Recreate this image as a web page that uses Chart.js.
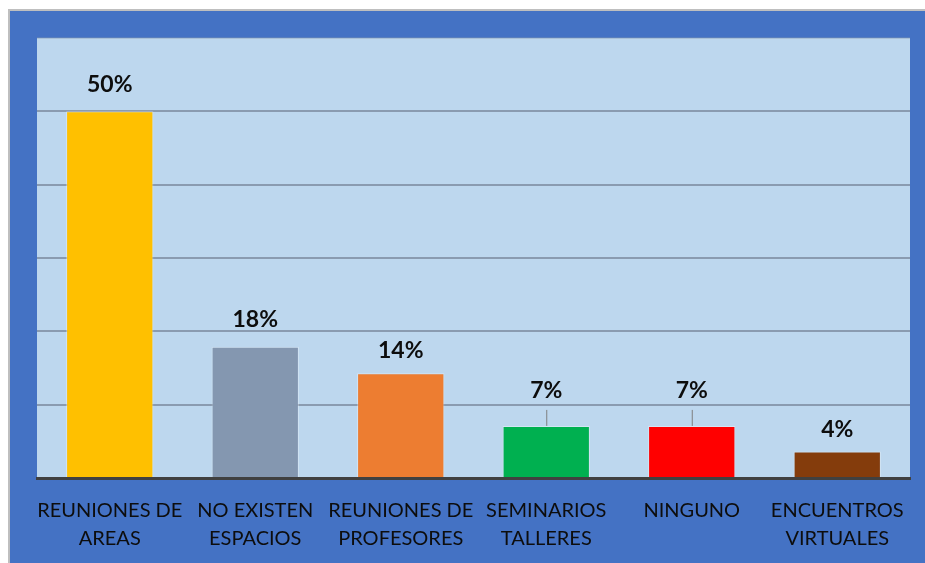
<!DOCTYPE html>
<html lang="es">
<head>
    <meta charset="UTF-8">
    <title>Espacios</title>
    <script src="https://cdn.jsdelivr.net/npm/chart.js"></script>
    <style>
        body { margin: 0; background: #fff; }
        canvas { position: absolute; left: 0; top: 0; }
    </style>
</head>
<body>
    <canvas id="chart" width="925" height="563"></canvas>

    <script>
        // data (28 answers -> 14, 5, 4, 2, 2, 1)
        const categories = [
            ['REUNIONES DE', 'AREAS'],
            ['NO EXISTEN', 'ESPACIOS'],
            ['REUNIONES DE', 'PROFESORES'],
            ['SEMINARIOS', 'TALLERES'],
            ['NINGUNO'],
            ['ENCUENTROS', 'VIRTUALES']
        ];
        const percents = [50, 17.9, 14.3, 7.1, 7.1, 3.6];
        const valueLabels = ['50%', '18%', '14%', '7%', '7%', '4%'];
        const barColors = ['#FFC000', '#8497B0', '#ED7D31', '#00B050', '#FF0000', '#843C0C'];

        // label distance above the bar top, and which ones have a leader line
        const labelGap = [27, 27, 23, 35, 35, 22];
        const leader = [false, false, false, true, true, false];

        const background = {
            id: 'background',
            beforeDraw(chart) {
                const c = chart.ctx;
                const a = chart.chartArea;
                c.save();
                c.fillStyle = '#fff';
                c.fillRect(0, 0, chart.width, chart.height);
                c.fillStyle = '#BFBFBF';
                c.fillRect(8, 9, chart.width, 2);
                c.fillRect(8, 9, 2, chart.height);
                c.fillStyle = '#4472C4';
                c.fillRect(10, 11, chart.width, chart.height);
                c.fillStyle = '#BDD7EE';
                c.fillRect(a.left, a.top, a.right - a.left, a.bottom - a.top);
                c.restore();
            }
        };

        const barLabels = {
            id: 'barLabels',
            afterDatasetsDraw(chart) {
                const c = chart.ctx;
                const meta = chart.getDatasetMeta(0);
                c.save();
                c.font = 'bold 23px "Lato", "Liberation Sans", sans-serif';
                c.fillStyle = '#0D0D0D';
                c.textAlign = 'center';
                c.textBaseline = 'middle';
                meta.data.forEach((bar, i) => {
                    const y = bar.y - labelGap[i];
                    c.fillText(valueLabels[i], bar.x, y);
                    if (leader[i]) {
                        c.strokeStyle = '#7F7F7F';
                        c.lineWidth = 1;
                        c.beginPath();
                        c.moveTo(bar.x + 0.5, y + 19);
                        c.lineTo(bar.x + 0.5, bar.y);
                        c.stroke();
                    }
                });
                c.restore();
            }
        };

        new Chart(document.getElementById('chart'), {
            type: 'bar',
            data: {
                labels: categories,
                datasets: [{
                    data: percents,
                    backgroundColor: barColors,
                    borderColor: 'rgba(255,255,255,0.35)',
                    borderWidth: 1,
                    barPercentage: 0.6,
                    categoryPercentage: 1
                }]
            },
            options: {
                responsive: false,
                animation: false,
                layout: { padding: { left: 37, right: 15, top: 38, bottom: -1 } },
                plugins: {
                    legend: { display: false },
                    tooltip: { enabled: false }
                },
                scales: {
                    x: {
                        grid: { display: false },
                        border: { color: '#404040', width: 3 },
                        ticks: {
                            color: '#0D0D0D',
                            padding: 11,
                            maxRotation: 0,
                            autoSkip: false,
                            font: { family: '"Lato", "Liberation Sans", sans-serif', size: 20, lineHeight: 1.4 }
                        }
                    },
                    y: {
                        min: 0,
                        max: 60,
                        ticks: { display: false, stepSize: 10 },
                        border: { display: false },
                        grid: {
                            drawTicks: false,
                            lineWidth: 2,
                            color: ctx => ctx.tick.value === 60 ? 'rgba(132,151,176,0.35)' : '#8A9BB0'
                        }
                    }
                }
            },
            plugins: [background, barLabels]
        });
    </script>
</body>
</html>
